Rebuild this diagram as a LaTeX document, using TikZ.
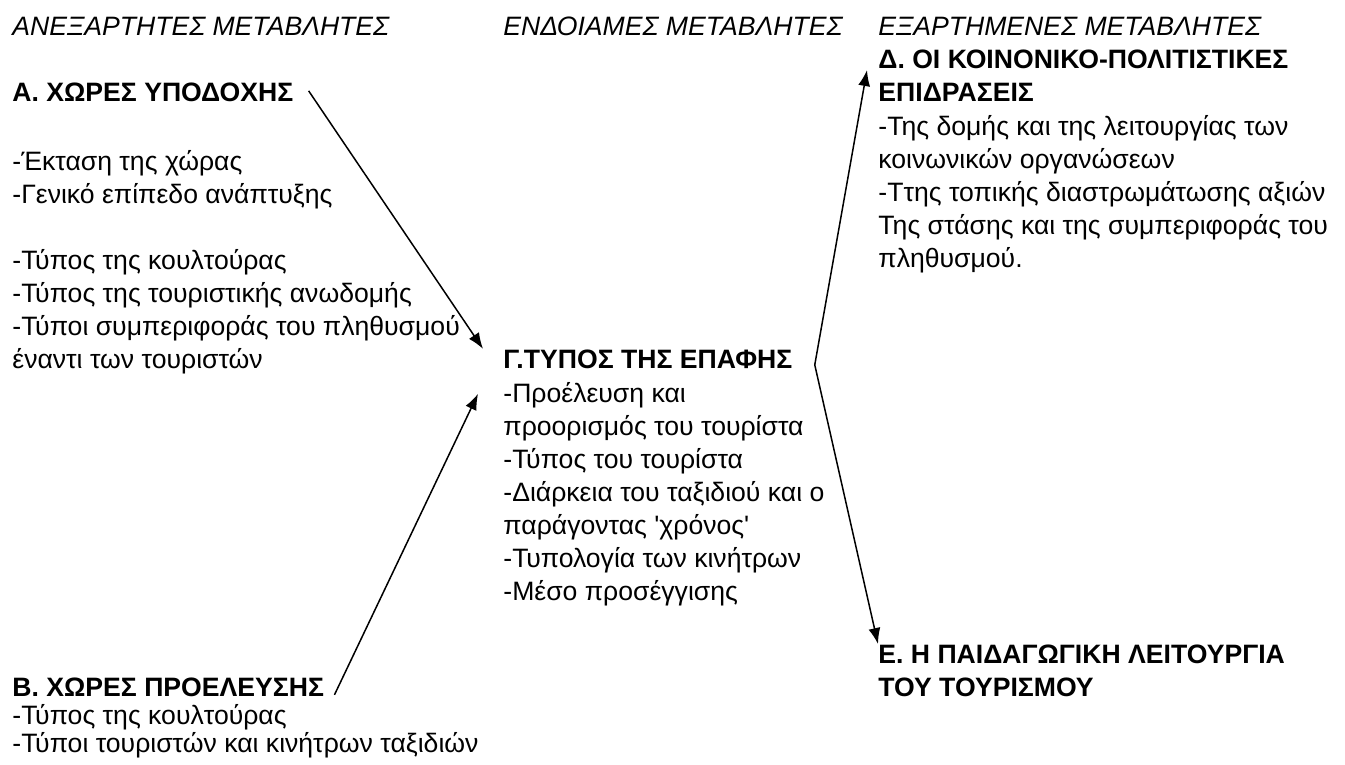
\documentclass[tikz,border=0pt]{standalone}
\usepackage{fontspec}
\setmainfont{Liberation Sans}
\usetikzlibrary{arrows.meta,calc}

% base anchor of a multi-line node = baseline of its last line
\tikzset{
  txt/.style={anchor=base west,inner sep=0pt,align=left,
    font=\fontsize{13.3pt}{16.5pt}\selectfont},
  head/.style={txt,font=\fontsize{13.3pt}{16.5pt}\selectfont\itshape},
  title/.style={txt,font=\fontsize{13.3pt}{16.5pt}\selectfont\bfseries},
  link/.style={->,line width=0.75pt}
}

\begin{document}
\begin{tikzpicture}[x=0.5pt,y=-0.5pt,>={Latex[length=8pt,width=6pt]}]
\useasboundingbox (0,0) rectangle (1345,765);
% column headers
\node[head] (hdIndep) at (12,36) {ΑΝΕΞΑΡΤΗΤΕΣ ΜΕΤΑΒΛΗΤΕΣ};
\node[head] (hdInter) at (503,36) {ΕΝΔΟΙΑΜΕΣ ΜΕΤΑΒΛΗΤΕΣ};
\node[head] (hdDep) at (878,36) {ΕΞΑΡΤΗΜΕΝΕΣ ΜΕΤΑΒΛΗΤΕΣ};
% A: host countries
\node[title] (hostT) at (12,102) {Α. ΧΩΡΕΣ ΥΠΟΔΟΧΗΣ};
\node[txt] (hostL) at (12,368) {-Έκταση της χώρας\\
  -Γενικό επίπεδο ανάπτυξης\\[16.5pt]
  -Τύπος της κουλτούρας\\
  -Τύπος της τουριστικής ανωδομής\\
  -Τύποι συμπεριφοράς του πληθυσμού\\
  έναντι των τουριστών};
% B: countries of origin
\node[title] (originT) at (12,696) {Β. ΧΩΡΕΣ ΠΡΟΕΛΕΥΣΗΣ};
\node[txt,font=\fontsize{13.3pt}{14pt}\selectfont] (originL) at (12,752)
  {-Τύπος της κουλτούρας\\
  -Τύποι τουριστών και κινήτρων ταξιδιών};
% C: type of contact
\node[title] (contactT) at (503,368) {Γ.ΤΥΠΟΣ ΤΗΣ ΕΠΑΦΗΣ};
\node[txt] (contactL) at (503,600) {-Προέλευση και\\
  προορισμός του τουρίστα\\
  -Τύπος του τουρίστα\\
  -Διάρκεια του ταξιδιού και ο\\
  παράγοντας \textquotesingle χρόνος\textquotesingle\\
  -Τυπολογία των κινήτρων\\
  -Μέσο προσέγγισης};
% D: socio-cultural effects
\node[title] (socialT) at (878,102) {Δ. ΟΙ ΚΟΙΝΟΝΙΚΟ-ΠΟΛΙΤΙΣΤΙΚΕΣ\\
  ΕΠΙΔΡΑΣΕΙΣ};
\node[txt] (socialL) at (878,267) {-Της δομής και της λειτουργίας των\\
  κοινωνικών οργανώσεων\\
  -Ττης τοπικής διαστρωμάτωσης αξιών\\
  Της στάσης και της συμπεριφοράς του\\
  πληθυσμού.};
% E: educational function
\node[title] (eduT) at (878,696) {Ε. Η ΠΑΙΔΑΓΩΓΙΚΗ ΛΕΙΤΟΥΡΓΙΑ\\
  ΤΟΥ ΤΟΥΡΙΣΜΟΥ};

% arrows
\coordinate (apex) at ($(contactT.east)+(22,6)$);
\draw[link] ($(hostT.east)+(15,-2)$) -- ($(contactT.west)+(-20,-10)$);
\draw[link] ($(originT.east)+(10,8)$) -- ($(contactT.west)+(-25,35)$);
\draw[link] (apex) -- ($(socialT.north west)+(-11,20)$);
\draw[link] (apex) -- (eduT.north west);
\end{tikzpicture}
\end{document}
